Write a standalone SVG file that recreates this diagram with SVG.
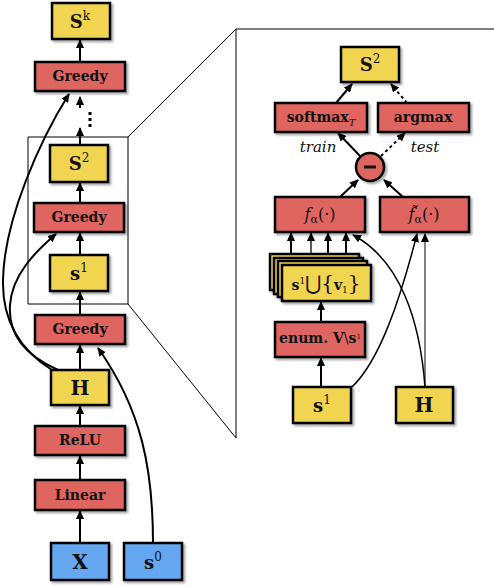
<svg xmlns="http://www.w3.org/2000/svg" width="494" height="586" viewBox="0 0 494 586">
<defs>
<filter id="sh" x="-20%" y="-20%" width="150%" height="160%">
<feDropShadow dx="2" dy="2" stdDeviation="1.2" flood-color="#000" flood-opacity="0.35"/>
</filter>
<marker id="ah" markerUnits="userSpaceOnUse" markerWidth="9" markerHeight="8" refX="8" refY="4" orient="auto">
<path d="M0,0 L9,4 L0,8 z" fill="#000"/>
</marker>
</defs>
<style>
.y{fill:#F1D44F;stroke:#000;stroke-width:2.5;filter:url(#sh)}
.r{fill:#DF6660;stroke:#000;stroke-width:2.5;filter:url(#sh)}
.b{fill:#66A7F2;stroke:#000;stroke-width:2.5;filter:url(#sh)}
.t{font-family:"DejaVu Serif",serif;font-weight:bold;font-size:14px;text-anchor:middle;fill:#111}
.big{font-family:"DejaVu Serif",serif;font-weight:bold;font-size:18px;text-anchor:middle;fill:#111}
.hx{font-family:"DejaVu Serif",serif;font-weight:bold;font-size:20px;text-anchor:middle;fill:#111}
.it{font-family:"DejaVu Serif",serif;font-style:italic;font-size:15px;text-anchor:middle;fill:#111}
.fa{font-family:"DejaVu Serif",serif;font-size:16px;text-anchor:middle;fill:#111}
.a{fill:none;stroke:#000;stroke-width:2;marker-end:url(#ah)}
.ad{fill:none;stroke:#000;stroke-width:2;stroke-dasharray:3,3;marker-end:url(#ah)}
.thin{fill:none;stroke:#000;stroke-width:1}
.sup{font-size:12px;font-weight:normal}
</style>

<g id="connectors">
<path class="a" d="M80,62 L80,40"/>
<path class="a" d="M80,108 L80,97"/>
<path class="a" d="M80,145 L80,128"/>
<path class="a" d="M80,203 L80,183"/>
<path class="a" d="M80,255 L80,233"/>
<path class="a" d="M80,315 L80,292"/>
<path class="a" d="M80,370 L80,345"/>
<path class="a" d="M80,426 L80,406"/>
<path class="a" d="M80,480 L80,456"/>
<path class="a" d="M80,543 L80,511"/>
<path class="a" d="M52,370 C20,350 2,320 3,280 C4,220 40,140 69,94"/>
<path class="a" d="M58,370 C25,355 8,335 10,305 C12,275 35,252 56,234"/>
<path class="a" d="M153,543 C153,470 142,410 98,348"/>
<path class="thin" d="M28,137 H128 V304 H28 Z"/>
<path class="thin" d="M128,137 L236,29 M128,304 L236,438 M494,29 H236 V438"/>
<path class="a" d="M336,103 L352,84"/>
<path class="ad" d="M407,103 L391,84"/>
<path class="a" d="M360,156 L338,133"/>
<path class="ad" d="M381,156 L405,133"/>
<path class="a" d="M340,197 L358,180"/>
<path class="a" d="M403,197 L384,180"/>
<path class="a" d="M291,254 L291,233"/>
<path class="a" d="M311,254 L311,233" style="stroke-width:1.3"/>
<path class="a" d="M328,254 L328,233"/>
<path class="a" d="M346,254 L346,233"/>
<path class="a" d="M321,322 L321,302"/>
<path class="a" d="M321,387 L321,358"/>
<path class="a" d="M352,387 C380,360 400,300 417,234" style="stroke-width:1.5"/>
<path class="a" d="M425,387 C420,320 400,260 353,235" style="stroke-width:1.5"/>
<path class="a" d="M425,387 L425,234" style="stroke-width:1"/>
</g>

<g id="dots">
<rect x="88.5" y="112" width="3" height="3"/>
<rect x="88.5" y="118" width="3" height="3"/>
<rect x="88.5" y="124" width="3" height="3"/>
</g>

<g id="sk"><rect class="y" x="52" y="3" width="58" height="36"/><text class="big" x="80" y="28">S<tspan class="sup" dy="-8">k</tspan></text></g>
<g id="greedy1"><rect class="r" x="35" y="62" width="90" height="29"/><text class="t" x="80" y="81">Greedy</text></g>
<g id="s2"><rect class="y" x="50" y="145" width="58" height="37"/><text class="big" x="79" y="170">S<tspan class="sup" dy="-8">2</tspan></text></g>
<g id="greedy2"><rect class="r" x="34" y="203" width="90" height="29"/><text class="t" x="79" y="222">Greedy</text></g>
<g id="s1"><rect class="y" x="50" y="255" width="58" height="36"/><text class="big" x="79" y="280">s<tspan class="sup" dy="-8">1</tspan></text></g>
<g id="greedy3"><rect class="r" x="35" y="315" width="90" height="29"/><text class="t" x="80" y="334">Greedy</text></g>
<g id="h"><rect class="y" x="51" y="370" width="58" height="35"/><text class="hx" x="80" y="395">H</text></g>
<g id="relu"><rect class="r" x="35" y="426" width="90" height="29"/><text class="t" x="80" y="445">ReLU</text></g>
<g id="linear"><rect class="r" x="35" y="480" width="90" height="30"/><text class="t" x="80" y="500">Linear</text></g>
<g id="x"><rect class="b" x="51" y="543" width="58" height="37"/><text class="hx" x="80" y="569">X</text></g>
<g id="s0"><rect class="b" x="124" y="543" width="58" height="37"/><text class="big" x="153" y="569">s<tspan class="sup" dy="-8">0</tspan></text></g>

<g id="rs2"><rect class="y" x="341" y="47" width="58" height="35"/><text class="big" x="370" y="71">S<tspan class="sup" dy="-8">2</tspan></text></g>
<g id="softmax"><rect class="r" x="275" y="103" width="92" height="29"/><text class="t" x="321" y="122">softmax<tspan font-style="italic" font-weight="normal" font-size="10" dy="4">T</tspan></text></g>
<g id="argmax"><rect class="r" x="378" y="103" width="91" height="29"/><text class="t" x="423" y="122">argmax</text></g>
<text class="it" x="318" y="152">train</text>
<text class="it" x="425" y="152">test</text>
<g id="minus"><circle cx="370" cy="167" r="14" fill="#DF6660" stroke="#000" stroke-width="2.5" filter="url(#sh)"/><rect x="364" y="165.5" width="12" height="3" fill="#111"/></g>
<g id="fa1"><rect class="r" x="275" y="197" width="90" height="35"/><text class="fa" x="320" y="220"><tspan font-style="italic">f</tspan><tspan font-size="11" dy="3">α</tspan><tspan dy="-3">(·)</tspan></text></g>
<g id="fa2"><rect class="r" x="380" y="197" width="89" height="35"/><text class="fa" x="424" y="220"><tspan font-style="italic">f̃</tspan><tspan font-size="11" dy="3">α</tspan><tspan dy="-3">(·)</tspan></text></g>
<g id="stack">
<rect class="y" x="270" y="254" width="89" height="36"/>
<rect class="y" x="274" y="258" width="89" height="36"/>
<rect class="y" x="278" y="261" width="89" height="36"/>
<rect class="y" x="282" y="265" width="89" height="36"/>
<text class="t" x="326" y="290" font-size="15">s<tspan font-size="9" font-weight="normal" dy="-6">1</tspan><tspan dy="6" font-weight="normal" font-size="20">⋃{</tspan>v<tspan font-size="9" font-weight="normal" dy="3">1</tspan><tspan dy="-3" font-weight="normal" font-size="20">}</tspan></text>
</g>
<g id="enum"><rect class="r" x="275" y="322" width="90" height="35"/><text class="t" x="320" y="343" font-size="10">enum. V<tspan font-weight="normal">\</tspan>s<tspan font-size="7" font-weight="normal" dy="-4">1</tspan></text></g>
<g id="rs1"><rect class="y" x="293" y="387" width="58" height="36"/><text class="big" x="322" y="412">s<tspan class="sup" dy="-8">1</tspan></text></g>
<g id="rh"><rect class="y" x="396" y="387" width="57" height="36"/><text class="hx" x="424" y="412">H</text></g>
</svg>
